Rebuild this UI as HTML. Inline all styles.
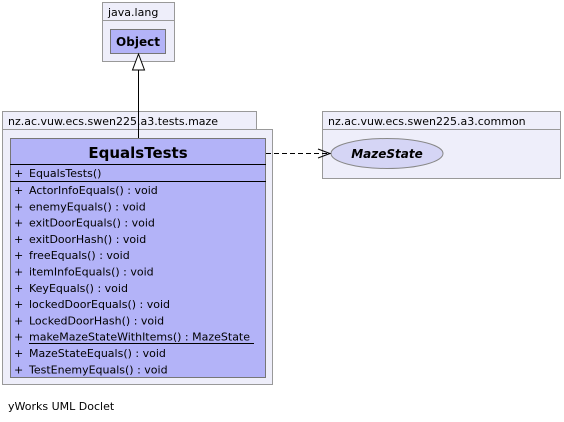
<!DOCTYPE html>
<html><head><style>body{margin:0;background:#fff}svg{display:block}</style></head><body>
<svg width="564" height="422" xmlns="http://www.w3.org/2000/svg" font-family="'DejaVu Sans', 'Liberation Sans', sans-serif" font-size="11">
<rect x="102.5" y="2.5" width="72" height="18" fill="#eeeefa" stroke="#999"/>
<rect x="102.5" y="20.5" width="72" height="41" fill="#eeeefa" stroke="#999"/>
<text x="108" y="16" fill="#000">java.lang</text>
<rect x="110.5" y="29.5" width="55" height="24" fill="#b3b3f8" stroke="#777"/>
<text x="138" y="46" text-anchor="middle" font-weight="bold" font-size="12">Object</text>
<rect x="2.5" y="111.5" width="254" height="18" fill="#eeeefa" stroke="#999"/>
<rect x="2.5" y="129.5" width="270" height="255" fill="#eeeefa" stroke="#999"/>
<text x="8" y="125">nz.ac.vuw.ecs.swen225.a3.tests.maze</text>
<rect x="10.5" y="138.5" width="255" height="239" fill="#b3b3f8" stroke="#777"/>
<text x="138" y="158" text-anchor="middle" font-weight="bold" font-size="15">EqualsTests</text>
<line x1="10" y1="164.5" x2="266" y2="164.5" stroke="#000"/>
<line x1="10" y1="181.5" x2="266" y2="181.5" stroke="#000"/>
<g>
<text x="14" y="177">+</text><text x="29" y="177">EqualsTests()</text>
<text x="14" y="194">+</text><text x="29" y="194">ActorInfoEquals() : void</text>
<text x="14" y="210.3">+</text><text x="29" y="210.3">enemyEquals() : void</text>
<text x="14" y="226.6">+</text><text x="29" y="226.6">exitDoorEquals() : void</text>
<text x="14" y="242.9">+</text><text x="29" y="242.9">exitDoorHash() : void</text>
<text x="14" y="259.2">+</text><text x="29" y="259.2">freeEquals() : void</text>
<text x="14" y="275.5">+</text><text x="29" y="275.5">itemInfoEquals() : void</text>
<text x="14" y="291.8">+</text><text x="29" y="291.8">KeyEquals() : void</text>
<text x="14" y="308.1">+</text><text x="29" y="308.1">lockedDoorEquals() : void</text>
<text x="14" y="324.4">+</text><text x="29" y="324.4">LockedDoorHash() : void</text>
<text x="14" y="340.7">+</text><text x="29" y="340.7">makeMazeStateWithItems() : MazeState</text>
<line x1="29" y1="343.5" x2="254" y2="343.5" stroke="#000"/>
<text x="14" y="357">+</text><text x="29" y="357">MazeStateEquals() : void</text>
<text x="14" y="373.3">+</text><text x="29" y="373.3">TestEnemyEquals() : void</text>
</g>
<rect x="322.5" y="111.5" width="238" height="18" fill="#eeeefa" stroke="#999"/>
<rect x="322.5" y="129.5" width="238" height="49" fill="#eeeefa" stroke="#999"/>
<text x="328" y="125">nz.ac.vuw.ecs.swen225.a3.common</text>
<ellipse cx="387" cy="153.5" rx="56" ry="15" fill="#d5d5f5" stroke="#888"/>
<text x="387" y="158" text-anchor="middle" font-weight="bold" font-style="italic" font-size="12">MazeState</text>
<line x1="138.5" y1="70" x2="138.5" y2="138" stroke="#000"/>
<polygon points="138.5,54 132.5,70 144.5,70" fill="#fff" stroke="#000"/>
<line x1="266" y1="153.5" x2="330" y2="153.5" stroke="#000" stroke-dasharray="5,3"/>
<polyline points="318,149 330,153.5 318,158" fill="none" stroke="#000"/>
<text x="8" y="410">yWorks UML Doclet</text>
</svg>
</body></html>
